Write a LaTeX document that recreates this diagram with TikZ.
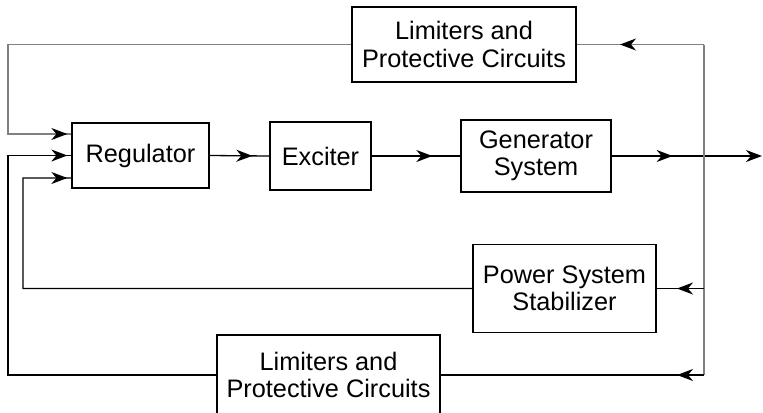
\documentclass[tikz,border=0pt]{standalone}
\usepackage{fontspec}
\setmainfont{Liberation Sans}
\usetikzlibrary{arrows.meta,decorations.markings,calc}
\begin{document}
\begin{tikzpicture}[x=1bp,y=-1bp,
  blk/.style={draw=black, line width=1.3bp, align=center, inner sep=0pt,
    font=\fontsize{25.4}{27.3}\selectfont},
  ln/.style={line width=1.3bp, black},
  gln/.style={line width=1.3bp, black!50},
  midarr/.style={postaction={decorate}, decoration={markings,
    mark=at position #1 with {\arrow[black]{Stealth[length=16bp,width=12bp,inset=5bp]}}}},
  endarr/.style={-{Stealth[length=16bp,width=12bp,inset=5bp]}}
]
\useasboundingbox (0,0) rectangle (763,412);

\node[blk, minimum width=224bp, minimum height=75bp] (lim1) at (464,44.5) {Limiters and\\Protective Circuits};
\node[blk, minimum width=137bp, minimum height=65bp] (reg) at (140.5,155.5) {Regulator};
\node[blk, minimum width=101bp, minimum height=68bp] (exc) at (320.5,156) {Exciter};
\node[blk, minimum width=150bp, minimum height=72bp] (gen) at (536,156) {Generator\\System};
\node[blk, minimum width=183bp, minimum height=88bp] (pss) at (564.5,288.5) {Power System\\Stabilizer};
\node[blk, minimum width=223bp, minimum height=80bp] (lim2) at (328.5,375) {Limiters and\\Protective Circuits};

\coordinate (out) at (762,156);
\coordinate (jtop) at (704,44.5);
\coordinate (jpss) at (704,288.5);
\coordinate (jbot) at (704,375);

% forward path
\draw[ln, midarr=-17bp] (reg.east) -- (exc.west);
\draw[ln, midarr=-28bp] (exc.east) -- (gen.west);
\draw[ln, midarr=61bp, endarr] (gen.east) -- (out);

% vertical pick-off
\draw[gln] (jtop) -- (jbot);

% top limiter loop
\draw[gln, midarr=84bp] (jtop) -- (lim1.east);
\draw[gln, midarr=-4bp] (lim1.west) -- (8,44.5) -- (8,134) -- ($(reg.west)+(0,-21.5)$);

% PSS loop
\draw[ln, midarr=27bp] (jpss) -- (pss.east);
\draw[ln, midarr=-4bp] (pss.west) -- (23,288.5) -- (23,178) -- ($(reg.west)+(0,22.5)$);

% bottom limiter loop
\draw[ln, midarr=27bp] (jbot) -- (lim2.east);
\draw[ln, midarr=-4bp] (lim2.west) -- (8,375) -- (8,155.5) -- (reg.west);
\end{tikzpicture}
\end{document}
